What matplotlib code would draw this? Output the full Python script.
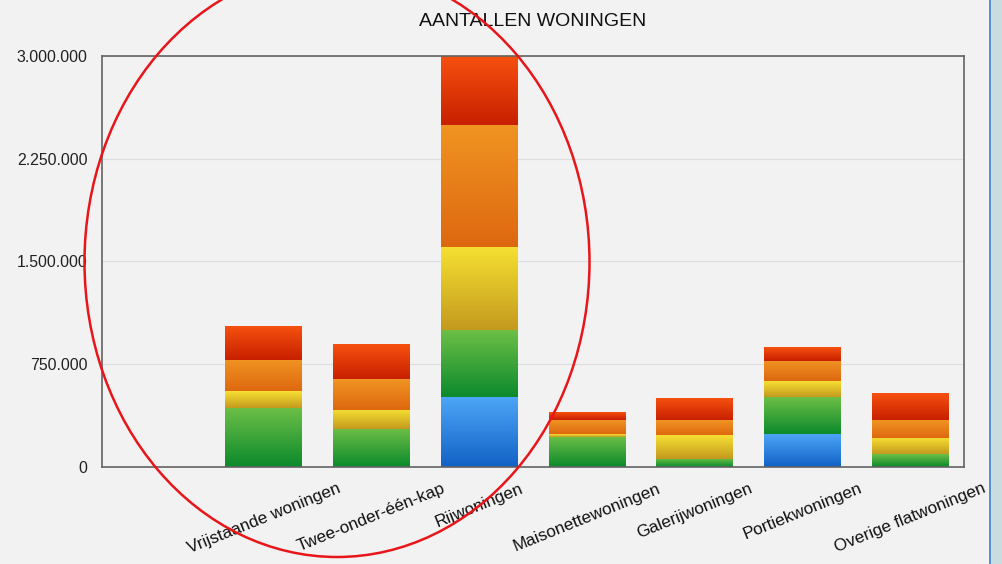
import numpy as np
import matplotlib
matplotlib.use("Agg")
import matplotlib.pyplot as plt
import matplotlib.colors as mcolors
from matplotlib.patches import Ellipse, Rectangle
from matplotlib.ticker import FuncFormatter

# woningtypes (eerste plek is leeg in het origineel)
categories = ["", "Vrijstaande woningen", "Twee-onder-één-kap", "Rijwoningen",
              "Maisonettewoningen", "Galerijwoningen", "Portiekwoningen",
              "Overige flatwoningen"]
blauw = [0, 0, 0, 514000, 0, 0, 244000, 0]
groen = [0, 433000, 280000, 484000, 219000, 61000, 267000, 93000]
geel = [0, 121000, 139000, 608000, 20000, 175000, 115000, 122000]
oranje = [0, 229000, 223000, 893000, 102000, 109000, 148000, 131000]
rood = [0, 245000, 251000, 501000, 53000, 158000, 102000, 190000]

series = [blauw, groen, geel, oranje, rood]
# (top colour, bottom colour) per series
gradients = [("#4ea6f6", "#1262c6"),
             ("#6cbf46", "#0c8a2c"),
             ("#f6e032", "#c49a1e"),
             ("#f09422", "#de6810"),
             ("#f6500f", "#c82000")]

bg = "#f2f2f2"
plt.rcParams['font.family'] = ['Liberation Sans', 'DejaVu Sans']

fig = plt.figure(figsize=(10.03, 5.64), dpi=100, facecolor=bg)
ax = fig.add_axes([0.1017, 0.172, 0.8593, 0.7287])
ax.set_facecolor(bg)

x = np.arange(len(categories))
bottom = np.zeros(len(categories))
for vals, (top_c, bot_c) in zip(series, gradients):
    bars = ax.bar(x, vals, width=0.71, bottom=bottom, color="none",
                  edgecolor="none", zorder=2)
    cmap = mcolors.LinearSegmentedColormap.from_list("g", [bot_c, top_c])
    grad = np.linspace(0, 1, 64).reshape(-1, 1)
    for b in bars:
        if b.get_height() <= 0:
            continue
        x0, y0 = b.get_x(), b.get_y()
        ax.imshow(grad, extent=[x0, x0 + b.get_width(), y0, y0 + b.get_height()],
                  origin="lower", aspect="auto", cmap=cmap, zorder=2,
                  interpolation="bilinear")
    bottom += np.array(vals)

ax.set_xlim(-0.5, len(categories) - 0.5)
ax.set_ylim(0, 3000000)
ax.set_yticks([0, 750000, 1500000, 2250000, 3000000])
ax.yaxis.set_major_formatter(FuncFormatter(lambda v, p: f"{int(v):,}".replace(",", ".")))
ax.grid(axis="y", color="#dedede", linewidth=0.8, zorder=0)
ax.set_axisbelow(True)

ax.set_xticks(x)
ax.set_xticklabels(categories, rotation=22, ha="center", va="top",
                   fontsize=12.3, color="#111111")
ax.tick_params(axis="x", length=0, pad=10)
ax.tick_params(axis="y", length=0, pad=10.5, labelsize=11.4, labelcolor="#222222")
for s in ax.spines.values():
    s.set_color("#636363")
    s.set_linewidth(1.2)

fig.text(0.531, 0.961, "AANTALLEN WONINGEN", ha="center", va="center",
         fontsize=14, color="#111111")

# rode ellips (annotatie in de schermafbeelding)
W, H = 1003, 564
ell = Ellipse((337 / W, 1 - 262 / H), 505 / W, 590 / H, transform=fig.transFigure,
              fill=False, edgecolor="#e8161a", linewidth=1.8, zorder=10)
fig.patches.append(ell)

# rand van het venster rechts
fig.patches.append(Rectangle((990 / W, 0), 13 / W, 1, transform=fig.transFigure,
                             facecolor="#c9dde0", edgecolor="none", zorder=9))
fig.patches.append(Rectangle((989 / W, 0), 2 / W, 1, transform=fig.transFigure,
                             facecolor="#5a8fd2", edgecolor="none", zorder=9))

fig.savefig("out.png", dpi=100, facecolor=bg)
